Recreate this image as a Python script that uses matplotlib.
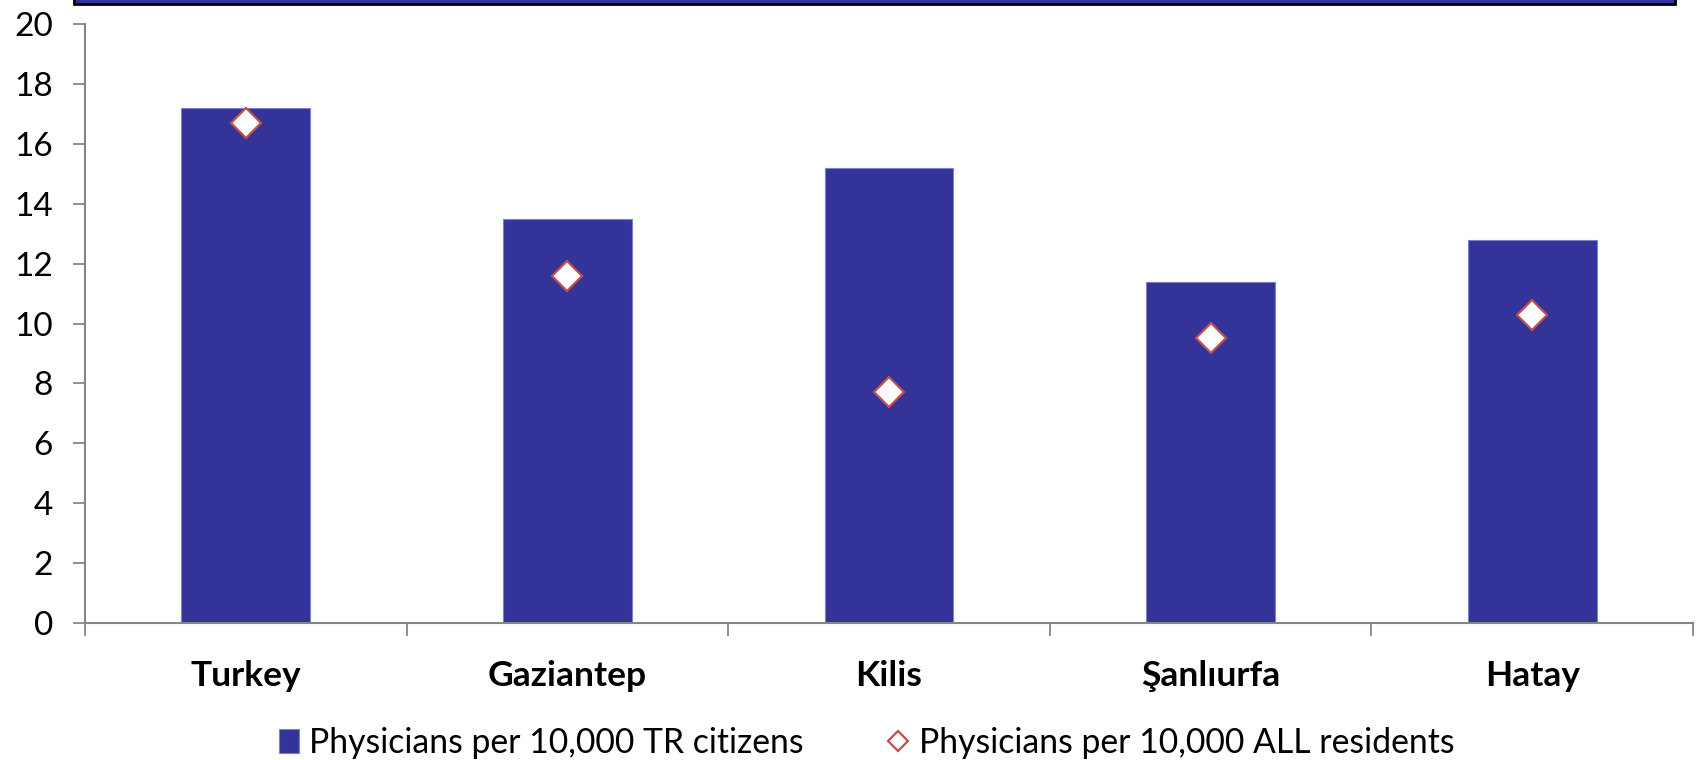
import matplotlib
matplotlib.use("Agg")
import matplotlib.pyplot as plt
from matplotlib.patches import Rectangle
import numpy as np

categories = ["Turkey", "Gaziantep", "Kilis", "Şanlıurfa", "Hatay"]
per_citizens = [17.2, 13.5, 15.2, 11.4, 12.8]
per_all_residents = [16.7, 11.6, 7.7, 9.5, 10.3]
y_ticks = [0, 2, 4, 6, 8, 10, 12, 14, 16, 18, 20]
series_names = ["Physicians per 10,000 TR citizens",
                "Physicians per 10,000 ALL residents"]

BAR_COLOR = "#333399"
MARKER_EDGE = "#C0504D"
AXIS_GREY = "#868686"

plt.rcParams["font.family"] = ["Lato", "DejaVu Sans"]

fig = plt.figure(figsize=(16.98, 7.60), dpi=100)
ax = fig.add_axes([85 / 1698, 1 - 623 / 760, (1693 - 85) / 1698, (623 - 24) / 760])

x = np.arange(len(categories))
bars = ax.bar(x, per_citizens, width=0.4, color=BAR_COLOR, edgecolor="#8080C8",
              linewidth=0.8, label=series_names[0], zorder=2)
points, = ax.plot(x, per_all_residents, linestyle="none", marker="D", markersize=15,
                  markerfacecolor="white", markeredgecolor=MARKER_EDGE,
                  markeredgewidth=1.6, label=series_names[1], zorder=3)

ax.set_xlim(-0.5, len(categories) - 0.5)
ax.set_ylim(0, 20)
ax.set_yticks(y_ticks)
ax.set_yticklabels([str(v) for v in y_ticks], fontsize=24)

# Category labels centred on each bar, ticks on category boundaries
ax.set_xticks(x)
ax.set_xticklabels(categories, fontsize=25.5, fontweight="bold")
ax.tick_params(axis="x", which="major", length=0, pad=27)
ax.set_xticks(np.arange(len(categories) + 1) - 0.5, minor=True)
ax.tick_params(axis="x", which="minor", length=9, width=1.3, color=AXIS_GREY,
               direction="out")
ax.tick_params(axis="y", length=9, width=1.3, color=AXIS_GREY, pad=14)

for side in ("top", "right"):
    ax.spines[side].set_visible(False)
for side in ("left", "bottom"):
    ax.spines[side].set_color(AXIS_GREY)
    ax.spines[side].set_linewidth(1.5)

ax.legend(handles=[bars, points], loc="center",
          bbox_to_anchor=(0.486, (1 - 743 / 760 - (1 - 623 / 760)) / ((623 - 24) / 760)),
          ncol=2, frameon=False, fontsize=24.3, handlelength=0.6, handletextpad=0.3,
          columnspacing=2.5, markerscale=0.7)

# Title box along the top edge of the figure
fig.patches.append(Rectangle((74 / 1698, 1 - 4 / 760), (1675 - 74) / 1698, 0.05,
                             transform=fig.transFigure, facecolor=BAR_COLOR,
                             edgecolor="black", linewidth=2, zorder=5))

fig.savefig("out.png", dpi=100)
